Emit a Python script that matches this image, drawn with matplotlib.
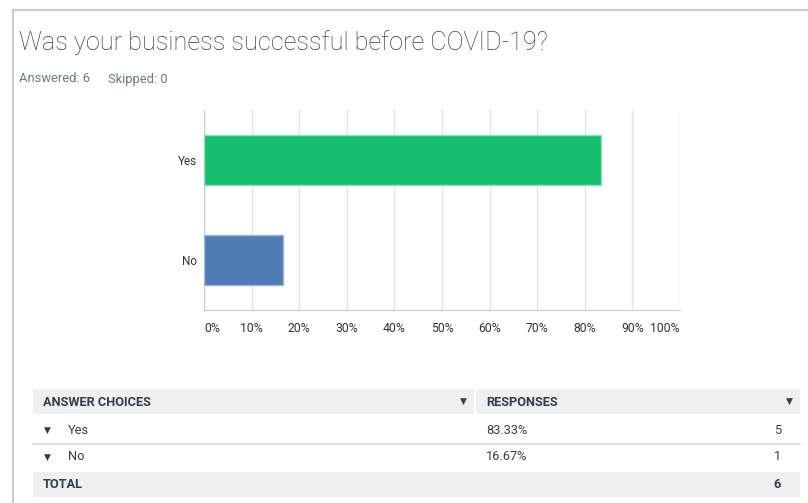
import matplotlib.pyplot as plt
from matplotlib.patches import Rectangle
from matplotlib.lines import Line2D

# survey data
question = "Was your business successful before COVID-19?"
answered = 6
skipped = 0
choices = ['Yes', 'No']
percents = [83.33, 16.67]
counts = [5, 1]
bar_colors = ['#15bf6f', '#507cb6']
edge_colors = ['#8ee0b5', '#9ab6dd']
xticks = list(range(0, 101, 10))

W, H = 808, 503
plt.rcParams['font.family'] = ['Roboto', 'DejaVu Sans']

fig = plt.figure(figsize=(W / 100, H / 100), dpi=100)
fig.patch.set_facecolor('white')


def fx(px):
    return px / W


def fy(py):
    return 1 - py / H


# outer card border (top + left)
fig.add_artist(Line2D([fx(13), fx(W)], [fy(10), fy(10)], color='#cccccc', lw=1.5))
fig.add_artist(Line2D([fx(13), fx(13)], [fy(10), fy(H)], color='#cccccc', lw=1.5))

fig.text(fx(19), fy(43), question, fontsize=18.2, fontweight='light',
         color='#333e48', va='center', ha='left')
fig.text(fx(19), fy(79), f"Answered: {answered}", fontsize=9.3, color='#6b787f', va='center')
fig.text(fx(108), fy(79), f"Skipped: {skipped}", fontsize=9.3, color='#6b787f', va='center')

# bar chart
ax = fig.add_axes([fx(204), fy(310), fx(680) - fx(204), (310 - 110) / H])
ypos = list(range(len(choices)))
ax.barh(ypos, percents, height=0.5, color=bar_colors, edgecolor=edge_colors, linewidth=1, zorder=3)
ax.set_xlim(0, 100)
ax.set_ylim(len(choices) - 0.5, -0.5)
ax.set_yticks(ypos)
ax.set_yticklabels(choices, fontsize=8.5, color='#333333')
ax.set_xticks(xticks)
xl = ax.set_xticklabels([f"{t}%" for t in xticks], fontsize=8.8, color='#333333')
xl[0].set_ha('left')
xl[-1].set_ha('right')
ax.tick_params(axis='y', length=0, pad=5)
ax.tick_params(axis='x', length=0, pad=9)
ax.grid(axis='x', color='#e3e3e3', lw=1, zorder=0)
for s in ['top', 'right']:
    ax.spines[s].set_visible(False)
for s in ['left', 'bottom']:
    ax.spines[s].set_color('#cccccc')

# table
tx0, tx1, tsplit = 33, 800, 475
grey = '#efefef'
txt = '#333e48'
fig.add_artist(Rectangle((fx(tx0), fy(414)), fx(tsplit - 1) - fx(tx0), (414 - 389) / H,
                         color=grey, lw=0))
fig.add_artist(Rectangle((fx(tsplit + 1), fy(414)), fx(tx1) - fx(tsplit + 1), (414 - 389) / H,
                         color=grey, lw=0))
fig.text(fx(43), fy(402), "ANSWER CHOICES", fontsize=9.2, fontweight='semibold', color=txt, va='center')
fig.text(fx(486), fy(402), "RESPONSES", fontsize=9.2, fontweight='semibold', color=txt, va='center')
fig.text(fx(463), fy(401), "\u25bc", fontsize=6.5, color=txt, va='center', ha='center',
         family='DejaVu Sans')
fig.text(fx(789), fy(401), "\u25bc", fontsize=6.5, color=txt, va='center', ha='center',
         family='DejaVu Sans')

row_y = [430, 457]
for i, (c, p, n) in enumerate(zip(choices, percents, counts)):
    y = row_y[i]
    fig.text(fx(47), fy(y), "\u25bc", fontsize=6.5, color=txt, va='center', ha='center',
             family='DejaVu Sans')
    fig.text(fx(68), fy(y), c, fontsize=9.2, color=txt, va='center')
    fig.text(fx(486), fy(y), f"{p:.2f}%", fontsize=9.2, color=txt, va='center')
    fig.text(fx(781), fy(y), str(n), fontsize=9.2, color=txt, va='center', ha='right')
    if i < len(choices) - 1:
        fig.add_artist(Line2D([fx(tx0), fx(tx1)], [fy(444), fy(444)], color='#d6d6d6', lw=1.2))

fig.add_artist(Rectangle((fx(tx0), fy(497)), fx(tx1) - fx(tx0), (497 - 472) / H, color=grey, lw=0))
fig.text(fx(43), fy(485), "TOTAL", fontsize=9.2, fontweight='semibold', color=txt, va='center')
fig.text(fx(781), fy(485), str(sum(counts)), fontsize=9.2, fontweight='bold', color=txt,
         va='center', ha='right')

fig.savefig('out.png', dpi=100, facecolor='white')
